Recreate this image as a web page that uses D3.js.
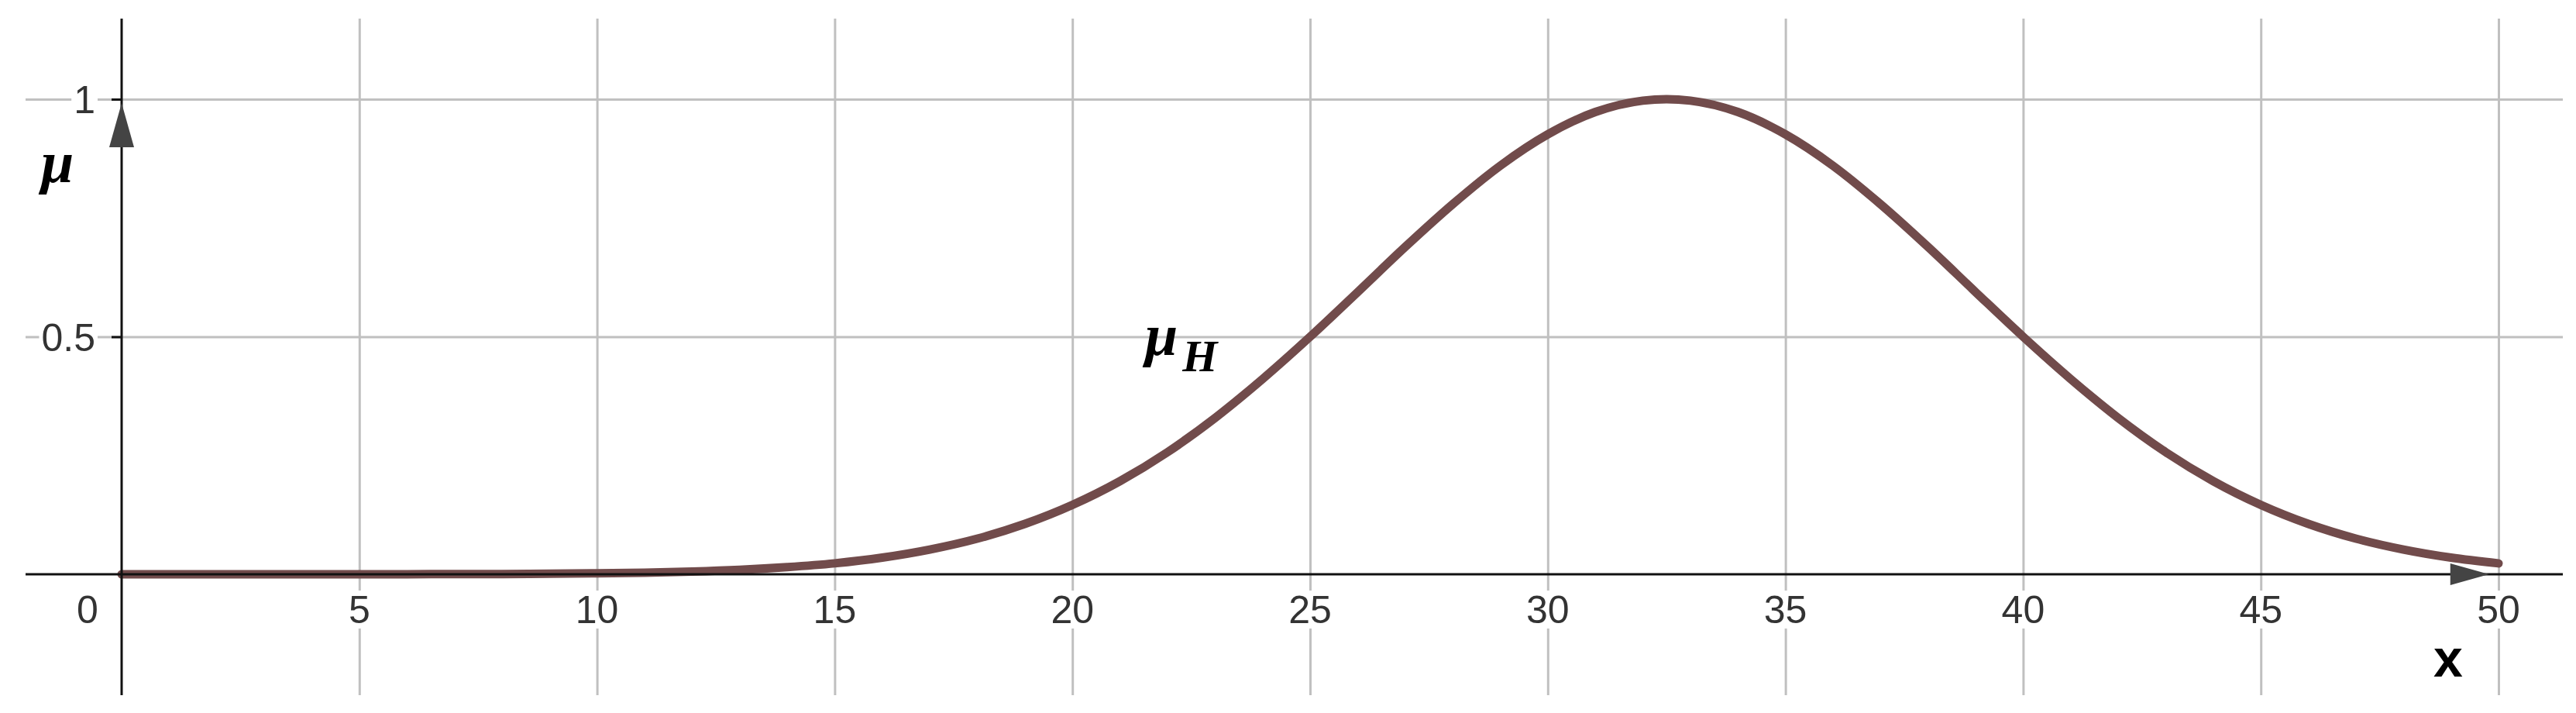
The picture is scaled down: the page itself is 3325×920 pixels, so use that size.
<!DOCTYPE html>
<html>
<head>
<meta charset="utf-8">
<script src="https://cdn.jsdelivr.net/npm/d3@7"></script>
<style>
  body { margin: 0; background: #fff; }
  svg { display: block; }
  .lbl { font-family: "Liberation Sans", Arial, sans-serif; font-size: 50px; fill: #333; }
</style>
</head>
<body>
<svg id="chart" width="3325" height="920"></svg>
<script>
//chart data
var X_TICKS = [5, 10, 15, 20, 25, 30, 35, 40, 45, 50];
var X_TICK_LABELS = ["5", "10", "15", "20", "25", "30", "35", "40", "45", "50"];
var Y_TICKS = [0.5, 1];
var Y_TICK_LABELS = ["0.5", "1"];
var CURVE_X = [0, 1, 2, 3, 4, 5, 6, 7, 8, 9, 10, 11, 12, 13, 14, 15, 16, 17, 18, 19, 20,
    21, 22, 23, 24, 25, 26, 27, 28, 29, 30, 31, 32, 32.5, 33, 34, 35, 36, 37, 38, 39, 40,
    41, 42, 43, 44, 45, 46, 47, 48, 49, 50];
var CURVE_MU = [0, 0, 0, 0, 0, 0.0001, 0.0002, 0.0003, 0.0006, 0.0012, 0.002, 0.0034, 0.0057,
    0.0093, 0.015, 0.023, 0.035, 0.052, 0.075, 0.106, 0.146, 0.196, 0.257, 0.329, 0.411, 0.5,
    0.594, 0.689, 0.779, 0.86, 0.926, 0.973, 0.997, 1, 0.997, 0.973, 0.926, 0.86, 0.779, 0.689,
    0.594, 0.5, 0.411, 0.329, 0.257, 0.196, 0.146, 0.106, 0.075, 0.052, 0.035, 0.023];

//layout
var VIEW = { left: 33, right: 3308, top: 24, bottom: 897 };
var GRID_COLOR = "#c0c0c0";
var CURVE_COLOR = "#714b4b";

var svg = d3.select("#chart");

var xScale = d3.scaleLinear()
    .domain([0, 50])
    .range([157, 3225]);

var yScale = d3.scaleLinear()
    .domain([0, 1])
    .range([741, 128]);

// grid
var xGrid = d3.axisBottom(xScale)
    .tickValues(X_TICKS)
    .tickSize(-(VIEW.bottom - VIEW.top))
    .tickFormat("");
svg.append("g")
    .attr("transform", `translate(0, ${VIEW.bottom})`)
    .call(xGrid)
    .call(g => g.select(".domain").remove())
    .selectAll("line")
        .attr("stroke", GRID_COLOR)
        .attr("stroke-width", 3);

var yGrid = d3.axisLeft(yScale)
    .tickValues(Y_TICKS)
    .tickSize(-(VIEW.right - VIEW.left))
    .tickFormat("");
svg.append("g")
    .attr("transform", `translate(${VIEW.left}, 0)`)
    .call(yGrid)
    .call(g => g.select(".domain").remove())
    .selectAll("line")
        .attr("stroke", GRID_COLOR)
        .attr("stroke-width", 3);

// labels with white backing (breaks the grid lines like the original)
function addLabel(x, y, text, anchor) {
    let g = svg.append("g");
    let t = g.append("text")
        .attr("class", "lbl")
        .attr("x", x)
        .attr("y", y)
        .attr("dy", "0.36em")
        .attr("text-anchor", anchor)
        .text(text);
    let bb = t.node().getBBox();
    g.insert("rect", "text")
        .attr("x", bb.x - 3)
        .attr("y", y - 24)
        .attr("width", bb.width + 6)
        .attr("height", 49)
        .attr("fill", "#fff");
}

X_TICKS.forEach((d, i) => addLabel(xScale(d), 786, X_TICK_LABELS[i], "middle"));
Y_TICKS.forEach((d, i) => addLabel(123, yScale(d), Y_TICK_LABELS[i], "end"));
addLabel(xScale(0) - 44, 786, "0", "middle");

// curve
var line = d3.line()
    .x((d, i) => xScale(CURVE_X[i]))
    .y(d => yScale(d))
    .curve(d3.curveMonotoneX);

svg.append("path")
    .datum(CURVE_MU)
    .attr("fill", "none")
    .attr("stroke", CURVE_COLOR)
    .attr("stroke-width", 11)
    .attr("stroke-linecap", "round")
    .attr("d", line);

// axes
svg.append("line")
    .attr("x1", VIEW.left).attr("x2", VIEW.right)
    .attr("y1", yScale(0)).attr("y2", yScale(0))
    .attr("stroke", "#111")
    .attr("stroke-width", 3);

svg.append("line")
    .attr("x1", xScale(0)).attr("x2", xScale(0))
    .attr("y1", VIEW.top).attr("y2", VIEW.bottom)
    .attr("stroke", "#111")
    .attr("stroke-width", 3);

var yTicks = d3.axisLeft(yScale)
    .tickValues(Y_TICKS)
    .tickSize(13)
    .tickFormat("");
svg.append("g")
    .attr("transform", `translate(${xScale(0)}, 0)`)
    .call(yTicks)
    .call(g => g.select(".domain").remove())
    .selectAll("line")
        .attr("stroke", "#111")
        .attr("stroke-width", 3);

// arrow heads
var yTip = [xScale(0), yScale(0.992)];
svg.append("path")
    .attr("d", `M${yTip[0]},${yTip[1]} L${yTip[0] - 16},${yTip[1] + 57} L${yTip[0] + 16},${yTip[1] + 57} Z`)
    .attr("fill", "#444");

var xTip = [xScale(49.8), yScale(0)];
svg.append("path")
    .attr("d", `M${xTip[0]},${xTip[1]} L${xTip[0] - 50},${xTip[1] - 14} L${xTip[0] - 50},${xTip[1] + 14} Z`)
    .attr("fill", "#444");

// axis titles
svg.append("text")
    .attr("x", 53)
    .attr("y", 235)
    .attr("font-family", "Liberation Serif, serif")
    .attr("font-style", "italic")
    .attr("font-weight", "bold")
    .attr("font-size", 76)
    .attr("fill", "#000")
    .text("μ");

svg.append("text")
    .attr("x", 3160)
    .attr("y", 873)
    .attr("text-anchor", "middle")
    .attr("font-family", "Liberation Sans, sans-serif")
    .attr("font-weight", "bold")
    .attr("font-size", 68)
    .attr("fill", "#000")
    .text("x");

// curve name
var curveName = svg.append("text")
    .attr("x", 1478)
    .attr("y", 458)
    .attr("font-family", "Liberation Serif, serif")
    .attr("font-style", "italic")
    .attr("font-weight", "bold")
    .attr("fill", "#000");
curveName.append("tspan")
    .attr("font-size", 76)
    .text("μ");
curveName.append("tspan")
    .attr("font-size", 58)
    .attr("dx", 6)
    .attr("dy", 21)
    .text("H");
</script>
</body>
</html>
